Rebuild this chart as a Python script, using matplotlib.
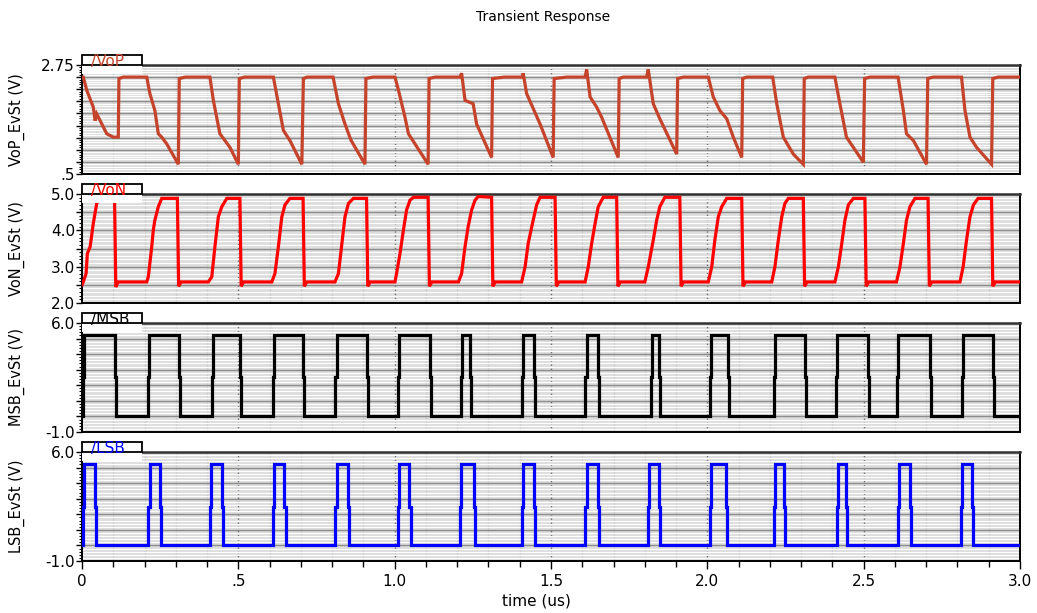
import matplotlib
matplotlib.use("Agg")
import matplotlib.pyplot as plt
from matplotlib.ticker import MultipleLocator, FuncFormatter
from matplotlib.patches import Rectangle

# ---- data (time in us, voltage in V) ----
vop_t = [0.000, 0.004, 0.015, 0.036, 0.042, 0.047, 0.058, 0.079, 0.100, 0.116, 0.118, 0.132,
         0.207, 0.217, 0.233, 0.244, 0.255, 0.271, 0.308, 0.311, 0.330,
         0.409, 0.420, 0.441, 0.473, 0.500, 0.503, 0.520,
         0.612, 0.628, 0.644, 0.665, 0.703, 0.708, 0.720,
         0.803, 0.820, 0.840, 0.860, 0.905, 0.908, 0.930,
         1.001, 1.012, 1.033, 1.044, 1.065, 1.107, 1.110, 1.129,
         1.209, 1.214, 1.225, 1.251, 1.262, 1.310, 1.313, 1.350,
         1.409, 1.411, 1.422, 1.465, 1.507, 1.510, 1.550,
         1.609, 1.614, 1.625, 1.646, 1.662, 1.715, 1.718, 1.731,
         1.806, 1.811, 1.827, 1.848, 1.902, 1.905, 1.923,
         2.003, 2.019, 2.040, 2.062, 2.083, 2.110, 2.113, 2.126,
         2.209, 2.222, 2.243, 2.275, 2.307, 2.310, 2.323,
         2.408, 2.424, 2.445, 2.467, 2.499, 2.503, 2.520,
         2.610, 2.627, 2.637, 2.659, 2.701, 2.705, 2.722,
         2.813, 2.824, 2.840, 2.861, 2.909, 2.913, 2.930, 3.000]
vop_v = [2.50, 2.50, 2.23, 1.88, 1.60, 1.74, 1.60, 1.33, 1.26, 1.26, 2.47, 2.50,
         2.50, 2.16, 1.81, 1.33, 1.26, 1.12, 0.70, 2.47, 2.50,
         2.50, 2.02, 1.33, 1.05, 0.70, 2.47, 2.50,
         2.50, 1.95, 1.40, 1.19, 0.70, 2.47, 2.50,
         2.50, 1.95, 1.55, 1.20, 0.70, 2.47, 2.50,
         2.50, 2.23, 1.67, 1.33, 1.12, 0.70, 2.47, 2.50,
         2.50, 2.58, 2.02, 1.95, 1.53, 0.84, 2.47, 2.50,
         2.50, 2.58, 2.16, 1.53, 0.84, 2.47, 2.50,
         2.50, 2.66, 2.09, 1.88, 1.67, 0.84, 2.47, 2.50,
         2.50, 2.66, 1.95, 1.64, 0.91, 2.47, 2.50,
         2.50, 2.09, 1.81, 1.64, 1.26, 0.84, 2.47, 2.50,
         2.50, 1.95, 1.26, 0.91, 0.70, 2.47, 2.50,
         2.50, 1.95, 1.26, 1.05, 0.74, 2.47, 2.50,
         2.50, 1.81, 1.33, 1.19, 0.70, 2.47, 2.50,
         2.50, 1.81, 1.26, 1.05, 0.70, 2.47, 2.50, 2.50]

von_t = [0.000, 0.004, 0.013, 0.017, 0.026, 0.036, 0.047, 0.058, 0.104, 0.108, 0.116,
         0.207, 0.212, 0.223, 0.228, 0.233, 0.244, 0.255, 0.305, 0.309, 0.317,
         0.404, 0.415, 0.425, 0.436, 0.447, 0.463, 0.505, 0.509, 0.517,
         0.607, 0.617, 0.628, 0.639, 0.649, 0.665, 0.707, 0.711, 0.719,
         0.809, 0.820, 0.830, 0.841, 0.852, 0.868, 0.910, 0.914, 0.922,
         1.001, 1.006, 1.017, 1.028, 1.038, 1.049, 1.060, 1.107, 1.111, 1.119,
         1.204, 1.214, 1.225, 1.235, 1.246, 1.257, 1.267, 1.310, 1.314, 1.322,
         1.406, 1.417, 1.427, 1.443, 1.454, 1.465, 1.513, 1.517, 1.525,
         1.609, 1.619, 1.630, 1.641, 1.651, 1.667, 1.710, 1.714, 1.722,
         1.800, 1.811, 1.827, 1.838, 1.848, 1.864, 1.912, 1.916, 1.924,
         2.003, 2.014, 2.024, 2.035, 2.046, 2.062, 2.110, 2.114, 2.122,
         2.206, 2.216, 2.227, 2.238, 2.248, 2.259, 2.307, 2.311, 2.319,
         2.408, 2.419, 2.430, 2.440, 2.451, 2.467, 2.504, 2.508, 2.516,
         2.605, 2.616, 2.627, 2.637, 2.648, 2.664, 2.706, 2.710, 2.718,
         2.808, 2.818, 2.829, 2.840, 2.851, 2.866, 2.909, 2.913, 2.921, 3.000]
von_v = [2.50, 2.58, 2.81, 3.36, 3.55, 4.19, 4.74, 4.88, 4.88, 2.44, 2.58,
         2.58, 2.72, 3.55, 4.01, 4.28, 4.65, 4.88, 4.88, 2.46, 2.58,
         2.58, 2.72, 3.55, 4.37, 4.65, 4.88, 4.88, 2.46, 2.58,
         2.58, 2.81, 3.55, 4.37, 4.70, 4.88, 4.88, 2.46, 2.58,
         2.58, 2.81, 3.55, 4.37, 4.74, 4.88, 4.88, 2.46, 2.58,
         2.58, 2.81, 3.36, 4.01, 4.56, 4.83, 4.91, 4.91, 2.46, 2.58,
         2.58, 2.81, 3.55, 4.10, 4.56, 4.83, 4.93, 4.91, 2.46, 2.58,
         2.58, 2.99, 3.64, 4.28, 4.70, 4.91, 4.91, 2.46, 2.58,
         2.58, 2.99, 3.64, 4.19, 4.65, 4.91, 4.91, 2.46, 2.58,
         2.58, 2.99, 3.73, 4.28, 4.65, 4.91, 4.91, 2.46, 2.58,
         2.58, 2.99, 3.73, 4.37, 4.65, 4.88, 4.88, 2.46, 2.58,
         2.58, 2.99, 3.73, 4.37, 4.74, 4.88, 4.88, 2.46, 2.58,
         2.58, 2.99, 3.64, 4.28, 4.70, 4.88, 4.88, 2.46, 2.58,
         2.58, 2.99, 3.64, 4.28, 4.65, 4.88, 4.88, 2.46, 2.58,
         2.58, 2.99, 3.73, 4.37, 4.70, 4.88, 4.88, 2.46, 2.58, 2.58]

msb_rise = [0.003, 0.210, 0.415, 0.610, 0.810, 1.010, 1.212, 1.408, 1.610, 1.819,
            2.007, 2.213, 2.410, 2.607, 2.815]
msb_fall = [0.105, 0.310, 0.505, 0.707, 0.910, 1.113, 1.240, 1.446, 1.649, 1.846,
            2.065, 2.312, 2.514, 2.711, 2.914]
lsb_rise = [0.003, 0.212, 0.410, 0.610, 0.810, 1.010, 1.209, 1.408, 1.610, 1.810,
            2.007, 2.213, 2.414, 2.610, 2.811]
lsb_fall = [0.040, 0.250, 0.447, 0.647, 0.850, 1.047, 1.254, 1.446, 1.649, 1.846,
            2.060, 2.244, 2.443, 2.647, 2.847]
logic_lo, logic_mid, logic_hi = 0.0, 2.5, 5.2   # levels incl. the half-way step on edges
edge_step = 0.004                               # us spent on the half-way step

x_ticks = [0, 0.5, 1.0, 1.5, 2.0, 2.5, 3.0]
x_labels = ["0", ".5", "1.0", "1.5", "2.0", "2.5", "3.0"]


def pulse_train(rises, falls):
    t, v = [0.0], [logic_lo]
    for r, f in zip(rises, falls):
        t += [r, r, r + edge_step, r + edge_step, f, f, f + edge_step, f + edge_step]
        v += [logic_lo, logic_mid, logic_mid, logic_hi, logic_hi, logic_mid, logic_mid, logic_lo]
    t.append(3.0)
    v.append(logic_lo)
    return t, v


msb_t, msb_v = pulse_train(msb_rise, msb_fall)
lsb_t, lsb_v = pulse_train(lsb_rise, lsb_fall)

panels = [
    dict(t=vop_t, v=vop_v, name="/VoP", ylabel="VoP_EvSt (V)", color="#c4432a",
         ylim=(0.5, 2.75), major=0.25, minor=0.05, labels={2.75: "2.75", 0.5: ".5"}),
    dict(t=von_t, v=von_v, name="/VoN", ylabel="VoN_EvSt (V)", color="#ff0000",
         ylim=(2.0, 5.0), major=0.5, minor=0.1,
         labels={5.0: "5.0", 4.0: "4.0", 3.0: "3.0", 2.0: "2.0"}),
    dict(t=msb_t, v=msb_v, name="/MSB", ylabel="MSB_EvSt (V)", color="#000000",
         ylim=(-1.0, 6.0), major=1.0, minor=0.2, labels={6.0: "6.0", -1.0: "-1.0"}),
    dict(t=lsb_t, v=lsb_v, name="/LSB", ylabel="LSB_EvSt (V)", color="#0000ff",
         ylim=(-1.0, 6.0), major=1.0, minor=0.2, labels={6.0: "6.0", -1.0: "-1.0"}),
]

fig = plt.figure(figsize=(10.37, 6.13), dpi=100)
fig.patch.set_facecolor("white")
bottoms = [0.7162, 0.5057, 0.2953, 0.0848]

for i, p in enumerate(panels):
    ax = fig.add_axes([0.0791, bottoms[i], 0.9045, 0.1778])
    ax.set_facecolor("#dedede")
    ax.set_axisbelow(True)
    ax.plot(p["t"], p["v"], color=p["color"], lw=2.3, solid_joinstyle="miter", zorder=3)
    ax.set_xlim(0, 3.0)
    ax.set_ylim(*p["ylim"])

    ax.yaxis.set_major_locator(MultipleLocator(p["major"]))
    ax.yaxis.set_minor_locator(MultipleLocator(p["minor"]))
    labs = p["labels"]
    ax.yaxis.set_major_formatter(FuncFormatter(
        lambda y, pos, labs=labs: next((s for k, s in labs.items() if abs(k - y) < 1e-6), "")))
    ax.xaxis.set_major_locator(MultipleLocator(0.5))
    ax.xaxis.set_minor_locator(MultipleLocator(0.1))

    ax.yaxis.grid(True, which="minor", color="white", lw=0.8)
    ax.yaxis.grid(True, which="major", color="#8c8c8c", lw=1.0)
    ax.xaxis.grid(True, which="minor", color="#cfcfcf", lw=1.0)
    ax.xaxis.grid(True, which="major", color="#6a6a6a", lw=1.0, ls=(0, (1, 2)))

    ax.tick_params(axis="y", which="major", direction="out", length=4, width=1,
                   labelsize=11, pad=1)
    ax.tick_params(axis="y", which="minor", direction="out", length=2.5, width=0.8)
    if i < 3:
        ax.tick_params(axis="x", which="both", length=0, labelbottom=False)
    else:
        ax.set_xticks(x_ticks)
        ax.set_xticklabels(x_labels)
        ax.tick_params(axis="x", which="major", direction="out", length=6, width=1,
                       labelsize=11, pad=3)
        ax.tick_params(axis="x", which="minor", direction="out", length=4, width=1)

    for s in ax.spines.values():
        s.set_color("black")
        s.set_linewidth(1.4)
    ax.spines["top"].set_color("#333333")
    ax.spines["top"].set_linewidth(1.8)

    ax.set_ylabel(p["ylabel"], fontsize=10.5)
    ax.yaxis.set_label_coords(-0.061, 0.5)

    # signal name tab
    ax.add_patch(Rectangle((0, 0.92), 0.064, 0.08, transform=ax.transAxes,
                           facecolor="white", edgecolor="none", zorder=4, clip_on=False))
    ax.add_patch(Rectangle((0, 1.0), 0.064, 0.095, transform=ax.transAxes,
                           facecolor="white", edgecolor="black", lw=1.3, zorder=5,
                           clip_on=False))
    ax.text(0.01, 1.03, p["name"], transform=ax.transAxes, color=p["color"],
            fontsize=11, va="center", ha="left", zorder=6)

fig.text(0.524, 0.972, "Transient Response", ha="center", va="center", fontsize=10)
fig.text(0.517, 0.020, "time (us)", ha="center", va="center", fontsize=11)

fig.savefig("out.png", dpi=100, facecolor="white")
